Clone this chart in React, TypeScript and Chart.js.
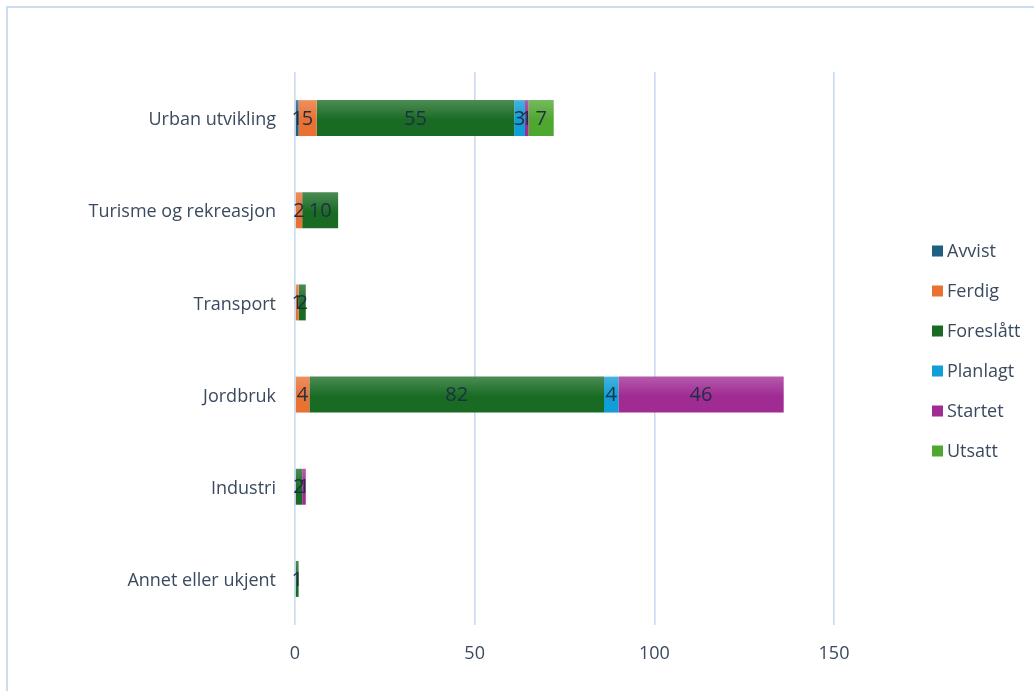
import React, { useEffect, useRef } from "react";
import { Chart, registerables } from "chart.js";

Chart.register(...registerables);

const categories = [
  "Urban utvikling",
  "Turisme og rekreasjon",
  "Transport",
  "Jordbruk",
  "Industri",
  "Annet eller ukjent",
];

const seriesNames = ["Avvist", "Ferdig", "Foreslått", "Planlagt", "Startet", "Utsatt"];
const seriesColors = ["#1f5f82", "#e97132", "#196b24", "#0f9ed5", "#a02b93", "#4ea72e"];

const avvist = [1, null, null, null, null, null];
const ferdig = [5, 2, 1, 4, null, null];
const foreslatt = [55, 10, 2, 82, 2, 1];
const planlagt = [3, null, null, 4, null, null];
const startet = [1, null, null, 46, 1, null];
const utsatt = [7, null, null, null, null, null];

const seriesValues = [avvist, ferdig, foreslatt, planlagt, startet, utsatt];

const xTicks = [0, 50, 100, 150];

const FONT = "'Open Sans', 'Noto Sans', sans-serif";
const TEXT = "#3a4a5e";

function lighten(hex: string, amt: number) {
  const n = parseInt(hex.slice(1), 16);
  const r = (n >> 16) & 255, g = (n >> 8) & 255, b = n & 255;
  const f = (c: number) => Math.round(c + (255 - c) * amt);
  return `rgb(${f(r)},${f(g)},${f(b)})`;
}

function barFill(color: string) {
  return (context: any) => {
    const chart = context.chart;
    const yScale = chart.scales && chart.scales.y;
    if (!yScale || context.type !== "data" || typeof context.dataIndex !== "number") return color;
    const center = yScale.getPixelForValue(context.dataIndex);
    if (!Number.isFinite(center)) return color;
    const half = 18;
    const g = chart.ctx.createLinearGradient(0, center - half, 0, center + half);
    g.addColorStop(0, lighten(color, 0.22));
    g.addColorStop(0.55, color);
    g.addColorStop(1, color);
    return g;
  };
}

const dataLabelPlugin = {
  id: "dataLabels",
  afterDatasetsDraw(chart: any) {
    const ctx = chart.ctx;
    ctx.save();
    ctx.font = `20px ${FONT}`;
    ctx.fillStyle = "#1e2f45";
    ctx.textAlign = "center";
    ctx.textBaseline = "middle";
    chart.data.datasets.forEach((ds: any, di: number) => {
      const meta = chart.getDatasetMeta(di);
      meta.data.forEach((el: any, i: number) => {
        const v = ds.data[i];
        if (v === null || v === undefined) return;
        const cx = (el.x + el.base) / 2;
        ctx.fillText(String(v), cx, el.y + 1);
      });
    });
    ctx.restore();
  },
};

const legendPlugin = {
  id: "customLegend",
  afterDraw(chart: any) {
    const ctx = chart.ctx;
    ctx.save();
    ctx.font = `18px ${FONT}`;
    ctx.textAlign = "left";
    ctx.textBaseline = "middle";
    const x0 = chart.chartArea.right + 98;
    const yMid = (chart.chartArea.top + chart.chartArea.bottom) / 2 + 3;
    const gap = 40;
    const n = chart.data.datasets.length;
    chart.data.datasets.forEach((ds: any, i: number) => {
      const y = yMid + (i - (n - 1) / 2) * gap;
      ctx.fillStyle = seriesColors[i];
      ctx.fillRect(x0, y - 6, 11, 11);
      ctx.fillStyle = TEXT;
      ctx.fillText(ds.label, x0 + 15, y);
    });
    ctx.restore();
  },
};

export default function App() {
  const ref = useRef<HTMLCanvasElement | null>(null);

  useEffect(() => {
    document.body.style.margin = "0";
    const canvas = ref.current!;
    const chart = new Chart(canvas, {
      type: "bar",
      data: {
        labels: categories,
        datasets: seriesNames.map((name, i) => ({
          label: name,
          data: seriesValues[i] as any,
          backgroundColor: barFill(seriesColors[i]),
          borderWidth: 0,
          barPercentage: 0.39,
          categoryPercentage: 1,
        })),
      },
      options: {
        indexAxis: "y",
        animation: false,
        responsive: false,
        maintainAspectRatio: false,
        layout: { padding: { top: 72, right: 200, bottom: 0, left: 0 } },
        plugins: {
          legend: { display: false },
          tooltip: { enabled: false },
          title: { display: false },
        },
        scales: {
          x: {
            stacked: true,
            min: 0,
            max: 150,
            afterBuildTicks: (scale: any) => {
              scale.ticks = xTicks.map((v) => ({ value: v }));
            },
            afterFit: (scale: any) => {
              scale.height = 66;
            },
            grid: { color: "#c8dbef", lineWidth: 1.6, drawTicks: false },
            border: { display: false },
            ticks: {
              padding: 18,
              color: TEXT,
              font: { family: FONT, size: 18 },
            },
          },
          y: {
            stacked: true,
            afterFit: (scale: any) => {
              scale.width = 295;
            },
            grid: { display: false, drawTicks: false },
            border: { display: false },
            ticks: {
              padding: 19,
              labelOffset: 2,
              color: TEXT,
              font: { family: FONT, size: 18 },
            },
          },
        },
      },
      plugins: [dataLabelPlugin, legendPlugin],
    } as any);
    return () => chart.destroy();
  }, []);

  return (
    <div style={{ position: "relative", width: 1034, height: 691, overflow: "hidden", background: "#fff" }}>
      <div
        style={{
          position: "absolute",
          left: 6,
          top: 6,
          width: 1100,
          height: 760,
          borderLeft: "2px solid #c9dcf0",
          borderTop: "2px solid #c9dcf0",
        }}
      />
      <canvas ref={ref} width={1034} height={691} style={{ position: "absolute", left: 0, top: 0 }} />
    </div>
  );
}
